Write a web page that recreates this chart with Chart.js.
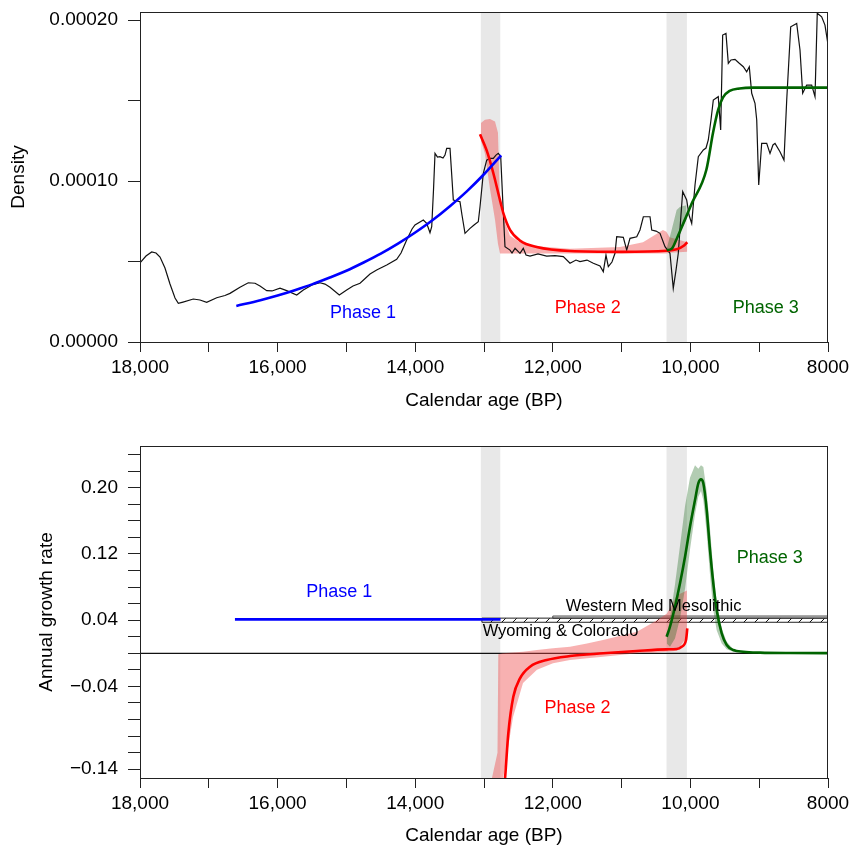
<!DOCTYPE html>
<html><head><meta charset="utf-8">
<script src="https://cdn.jsdelivr.net/npm/chart.js@4.4.1/dist/chart.umd.min.js"></script>
<style>
html,body{margin:0;padding:0;background:#fff;overflow:hidden;width:851px;height:845px}
#c1{position:absolute;left:0;top:0;width:851px;height:420px}
#c2{position:absolute;left:0;top:420px;width:851px;height:430px}
</style>
</head><body>
<canvas id="c1" width="851" height="420"></canvas>
<canvas id="c2" width="851" height="430"></canvas>
<script>
// ---------- axis ticks ----------
const xTickYears = [18000,17000,16000,15000,14000,13000,12000,11000,10000,9000,8000];
const xLabelYears = [18000,16000,14000,12000,10000,8000];
const xLabelTexts = ['18,000','16,000','14,000','12,000','10,000','8000'];
const yTicksTop = [0,0.00005,0.0001,0.00015,0.0002];
const yLabelsTop = ['0.00000','','0.00010','','0.00020'];
const yTicksBottom = [-0.14,-0.12,-0.10,-0.08,-0.06,-0.04,-0.02,0,0.02,0.04,0.06,0.08,0.10,0.12,0.14,0.16,0.18,0.20,0.22,0.24];
const yLabelsBottom = ['\u22120.14','','','','','\u22120.04','','','','0.04','','','','0.12','','','','0.20','',''];

// ---------- shaded intervals ----------
const band1Years = [13050,12760];
const band2Years = [10350,10050];

// ---------- top panel: summed density (black) ----------
const densYears = [18000,17913,17830,17767,17709,17637,17564,17491,17443,17375,17225,17128,17031,16885,16765,16692,16547,16426,16328,16256,16158,16081,15965,15868,15722,15626,15500,15384,15311,15238,15103,14996,14904,14802,14657,14560,14414,14269,14206,14124,14046,14003,13882,13833,13785,13760,13734,13712,13676,13640,13596,13567,13542,13494,13469,13446,13349,13320,13276,13203,13145,13083,13058,13010,12961,12913,12865,12826,12792,12757,12728,12695,12622,12593,12549,12477,12429,12389,12331,12215,12089,11968,11847,11750,11663,11605,11503,11411,11314,11266,11227,11193,11140,11096,11071,10975,10926,10878,10780,10733,10684,10587,10562,10500,10442,10369,10297,10249,10209,10176,10137,10112,10054,10020,9981,9933,9885,9812,9773,9740,9701,9667,9595,9560,9531,9483,9449,9410,9352,9294,9231,9182,9144,9109,9061,9036,9007,8964,8891,8843,8800,8770,8698,8640,8600,8542,8455,8407,8368,8310,8237,8189,8156,8092,8044,8010,8000];
const densValues = [4.91e-5,5.34e-5,5.59e-5,5.53e-5,5.28e-5,4.60e-5,3.60e-5,2.73e-5,2.40e-5,2.48e-5,2.67e-5,2.61e-5,2.47e-5,2.75e-5,2.89e-5,3.02e-5,3.40e-5,3.68e-5,3.65e-5,3.48e-5,3.19e-5,3.17e-5,3.35e-5,3.19e-5,2.92e-5,3.23e-5,3.54e-5,3.68e-5,3.60e-5,3.40e-5,2.92e-5,3.23e-5,3.48e-5,3.65e-5,4.22e-5,4.47e-5,4.78e-5,5.14e-5,5.53e-5,6.34e-5,7.02e-5,7.27e-5,7.58e-5,7.37e-5,6.79e-5,7.16e-5,9.44e-5,11.72e-5,11.49e-5,11.51e-5,11.43e-5,11.61e-5,12.03e-5,12.03e-5,10.37e-5,8.82e-5,8.71e-5,7.89e-5,6.75e-5,7.06e-5,7.27e-5,7.47e-5,8.40e-5,10.48e-5,11.30e-5,11.41e-5,11.41e-5,11.61e-5,11.72e-5,11.51e-5,8.82e-5,5.92e-5,5.71e-5,5.53e-5,5.82e-5,5.51e-5,5.82e-5,5.40e-5,5.34e-5,5.47e-5,5.34e-5,5.37e-5,5.30e-5,4.89e-5,5.09e-5,4.99e-5,5.09e-5,4.89e-5,4.72e-5,4.37e-5,5.40e-5,4.68e-5,4.97e-5,5.51e-5,6.54e-5,6.50e-5,5.71e-5,6.44e-5,6.54e-5,6.96e-5,7.78e-5,7.78e-5,6.96e-5,6.89e-5,6.75e-5,5.92e-5,5.51e-5,3.34e-5,4.47e-5,5.51e-5,7.89e-5,9.34e-5,8.82e-5,7.89e-5,7.37e-5,9.75e-5,11.51e-5,11.93e-5,12.05e-5,12.55e-5,13.79e-5,15.03e-5,15.24e-5,13.17e-5,19.07e-5,19.17e-5,17.31e-5,17.52e-5,17.56e-5,17.33e-5,17.10e-5,16.79e-5,17.10e-5,15.45e-5,14.83e-5,13.79e-5,9.75e-5,12.34e-5,12.34e-5,11.72e-5,12.24e-5,12.34e-5,11.82e-5,11.30e-5,15.03e-5,19.58e-5,19.79e-5,18.14e-5,15.45e-5,15.96e-5,15.96e-5,15.24e-5,20.42e-5,20.20e-5,19.69e-5,18.76e-5,18.90e-5];

// ---------- top panel: model fits ----------
const p1TopYears = [16600,16250,16000,15750,15500,15250,15000,14750,14500,14250,14000,13750,13500,13250,13000,12750];
const p1TopValues = [2.24e-5,2.60e-5,2.89e-5,3.22e-5,3.58e-5,3.99e-5,4.43e-5,4.94e-5,5.49e-5,6.11e-5,6.80e-5,7.56e-5,8.42e-5,9.36e-5,10.42e-5,11.6e-5];
const p2TopYears = [13058,12961,12865,12767,12719,12622,12477,12234,11750,11000,10345,10199,10103,10045];
const p2TopValues = [12.9e-5,11.9e-5,10.5e-5,8.8e-5,8.0e-5,6.96e-5,6.3e-5,5.9e-5,5.65e-5,5.6e-5,5.67e-5,5.76e-5,5.96e-5,6.2e-5];
const p2TopBandYears = [13044,12986,12913,12840,12797,12767,12719,12622,12477,12234,11750,11023,10689,10399,10350,10301,10045];
const p2TopBandUpper = [13.6e-5,13.8e-5,13.85e-5,13.7e-5,13.0e-5,8.5e-5,7.7e-5,6.6e-5,6.2e-5,5.95e-5,5.8e-5,5.9e-5,6.2e-5,6.95e-5,6.85e-5,6.5e-5,6.2e-5];
const p2TopBandLower = [12.5e-5,11.7e-5,9.5e-5,7.6e-5,6.1e-5,5.5e-5,5.5e-5,5.5e-5,5.5e-5,5.5e-5,5.5e-5,5.5e-5,5.5e-5,5.5e-5,5.5e-5,5.55e-5,5.6e-5];
const p3TopYears = [10345,10270,10200,10100,9981,9768,9671,9598,9526,9430,9285,9090,8000];
const p3TopValues = [5.7e-5,5.8e-5,6.4e-5,7.4e-5,8.6e-5,10.7e-5,13.0e-5,14.4e-5,15.2e-5,15.6e-5,15.75e-5,15.8e-5,15.8e-5];
const p3TopBandYears = [10345,10270,10200,10150,10055];
const p3TopBandUpper = [5.8e-5,7.0e-5,8.2e-5,8.4e-5,8.5e-5];
const p3TopBandLower = [5.7e-5,5.8e-5,6.4e-5,6.9e-5,7.6e-5];

// ---------- bottom panel: growth rates ----------
const zeroYears = [18000,8000];
const zeroValues = [0,0];
const p1BotYears = [16620,12760];
const p1BotValues = [0.041,0.041];
const p2BotYears = [12712,12695,12647,12574,12477,12331,12089,11750,11266,10781,10345,10199,10127,10064,10045];
const p2BotValues = [-0.165,-0.152,-0.097,-0.0526,-0.0303,-0.0162,-0.0081,-0.0033,0.0,0.0028,0.0048,0.0052,0.008,0.016,0.030];
const p2BotBandYears = [12888,12804,12792,12724,12578,12433,12230,11997,11750,11503,11271,10777,10486,10341,10195,10050];
const p2BotBandUpper = [-0.152,-0.12,-0.001,0.0,0.001,0.002,0.004,0.006,0.008,0.012,0.016,0.026,0.040,0.048,0.070,0.076];
const p2BotBandLower = [-0.17,-0.17,-0.17,-0.152,-0.077,-0.036,-0.020,-0.012,-0.008,-0.006,-0.004,0.0,0.001,0.002,0.003,0.020];
const p3BotYears = [10345,10297,10224,10151,10078,10006,9933,9885,9846,9812,9763,9715,9667,9618,9545,9472,9376,9231,8988,8552,8000];
const p3BotValues = [0.020,0.0321,0.0563,0.0845,0.1167,0.1529,0.1851,0.2053,0.2101,0.2053,0.1731,0.1248,0.0845,0.0523,0.0242,0.0100,0.0040,0.0019,0.0008,0.0003,0.0002];
const p3BotBandYears = [10345,10297,10224,10151,10078,10006,9933,9885,9846,9812,9763,9715,9667,9618,9545,9472,9376,9231];
const p3BotBandUpper = [0.018,0.042,0.083,0.130,0.178,0.212,0.227,0.223,0.227,0.225,0.195,0.150,0.100,0.062,0.030,0.014,0.005,0.002];
const p3BotBandLower = [0.012,0.008,0.018,0.042,0.078,0.125,0.168,0.189,0.196,0.185,0.145,0.095,0.052,0.028,0.012,0.005,0.002,0.001];
// reference growth-rate ranges
const wyYears = [13030,8000];
const wyUpper = [0.0425,0.0425];
const wyLower = [0.0375,0.0375];
const wmYears = [12000,8000];
const wmUpper = [0.045,0.045];
const wmLower = [0.0425,0.0425];

// ---------- labels ----------
const phaseTexts = ['Phase 1','Phase 2','Phase 3'];
const phaseColors = ['#0000FF','#FF0000','#006400'];
const phaseYearsTop = [14759,11493,8906];
const phaseValuesTop = [1.78e-5,2.09e-5,2.09e-5];
const phaseYearsBot = [15105,11640,8848];
const phaseValuesBot = [0.0744,-0.0664,0.1147];
const refTexts = ['Western Med Mesolithic','Wyoming & Colorado'];
const refYears = [10536,13019];
const refValues = [0.0571,0.0261];
const refAligns = ['center','left'];

// ---------- helpers ----------
const FONT = "'Liberation Sans', Arial, Helvetica, sans-serif";
Chart.defaults.font.family = FONT;
Chart.defaults.color = '#000';
const pts = (xs, ys) => xs.map((x, i) => ({x: x, y: ys[i]}));
function ds(xs, ys, o) {
  return Object.assign({data: pts(xs, ys), borderColor: 'rgba(0,0,0,0)', borderWidth: 0,
    pointRadius: 0, pointHoverRadius: 0, fill: false, tension: 0}, o);
}
function rect(xs, lo, hi) { // outline of a range box, corners taken from the arrays
  return {xs: [xs[0], xs[0], xs[1], xs[1], xs[0]], ys: [lo[0], hi[0], hi[1], lo[1], lo[0]]};
}
function hatchPattern() {
  const c = document.createElement('canvas'); c.width = 11; c.height = 11;
  const g = c.getContext('2d');
  g.strokeStyle = '#111'; g.lineWidth = 1;
  g.beginPath(); g.moveTo(-1, 12); g.lineTo(12, -1); g.stroke();
  return g.createPattern(c, 'repeat');
}
function textPlugin(items) {
  return { id: 'txt', afterDatasetsDraw(chart) {
    const {ctx, scales} = chart;
    items.forEach(t => {
      ctx.save();
      ctx.font = t.size + 'px ' + FONT;
      ctx.fillStyle = t.color; ctx.textAlign = t.align; ctx.textBaseline = 'middle';
      ctx.fillText(t.text, scales.x.getPixelForValue(t.x), scales.y.getPixelForValue(t.y));
      ctx.restore();
    });
  }};
}
const boxPlugin = { id: 'box', afterDatasetsDraw(chart) {
  const {ctx, chartArea: a} = chart;
  ctx.save(); ctx.strokeStyle = '#222'; ctx.lineWidth = 1;
  ctx.strokeRect(Math.round(a.left) + 0.5, Math.round(a.top) + 0.5,
    Math.round(a.right - a.left) - 1, Math.round(a.bottom - a.top));
  ctx.restore();
}};
function xScale(height, titleBottom) {
  return {
    type: 'linear', reverse: true, min: 8000, max: 18000, bounds: 'data',
    afterFit: s => { s.height = height; s.paddingLeft = 0; s.paddingRight = 0; },
    afterBuildTicks: s => { s.ticks = xTickYears.map(v => ({value: v})); },
    ticks: { autoSkip: false, maxRotation: 0, padding: 4, color: '#000', font: {size: 19},
      callback: v => { const i = xLabelYears.indexOf(v); return i >= 0 ? xLabelTexts[i] : ''; } },
    grid: { drawOnChartArea: false, tickLength: 10, tickColor: '#222', tickWidth: 1 },
    border: { display: false },
    title: { display: true, text: 'Calendar age (BP)', color: '#000', font: {size: 19}, padding: {top: 0, bottom: titleBottom} }
  };
}
function yScale(min, max, ticks, labels, title, titlePad) {
  return {
    type: 'linear', min: min, max: max, bounds: 'data',
    afterFit: s => { s.width = 140; s.paddingTop = 0; s.paddingBottom = 0; },
    afterBuildTicks: s => { s.ticks = ticks.map(v => ({value: v})); },
    ticks: { autoSkip: false, padding: 10, color: '#000', font: {size: 19},
      callback: v => { const i = ticks.indexOf(v); return i >= 0 ? labels[i] : ''; } },
    grid: { drawOnChartArea: false, tickLength: 12, tickColor: '#222', tickWidth: 1 },
    border: { display: false },
    title: { display: true, text: title, color: '#000', font: {size: 19}, padding: {top: titlePad, bottom: 0} }
  };
}
const baseOpts = { responsive: false, maintainAspectRatio: false, animation: false, devicePixelRatio: 1,
  events: [], plugins: { legend: {display: false}, tooltip: {enabled: false} } };

// ---------- top chart ----------
const GRAY = '#E8E8E8';
const PINK = 'rgba(238,70,70,0.42)';
const GFILL = 'rgba(20,100,20,0.33)';
const topTexts = phaseTexts.map((t, i) => ({text: t, x: phaseYearsTop[i], y: phaseValuesTop[i], color: phaseColors[i], size: 18, align: 'center'}));
new Chart(document.getElementById('c1'), {
  type: 'line',
  data: { datasets: [
    ds(band1Years, [2.1e-4, 2.1e-4], {fill: 'start', backgroundColor: GRAY, order: 20}),
    ds(band2Years, [2.1e-4, 2.1e-4], {fill: 'start', backgroundColor: GRAY, order: 20}),
    ds(p2TopBandYears, p2TopBandLower, {order: 10}),
    ds(p2TopBandYears, p2TopBandUpper, {fill: 2, backgroundColor: PINK, order: 10}),
    ds(p3TopBandYears, p3TopBandLower, {order: 9}),
    ds(p3TopBandYears, p3TopBandUpper, {fill: 4, backgroundColor: GFILL, order: 9}),
    ds(densYears, densValues, {borderColor: '#111', borderWidth: 1.2, order: 5}),
    ds(p1TopYears, p1TopValues, {borderColor: '#0000FF', borderWidth: 2.6, cubicInterpolationMode: 'monotone', order: 2}),
    ds(p2TopYears, p2TopValues, {borderColor: '#FF0000', borderWidth: 2.6, cubicInterpolationMode: 'monotone', order: 2}),
    ds(p3TopYears, p3TopValues, {borderColor: '#006400', borderWidth: 2.6, cubicInterpolationMode: 'monotone', order: 1})
  ]},
  options: Object.assign({}, baseOpts, {
    layout: { padding: {left: 0, right: 23, top: 12, bottom: 0} },
    scales: { x: xScale(78, 8), y: yScale(0, 0.000205, yTicksTop, yLabelsTop, 'Density', 7) }
  }),
  plugins: [textPlugin(topTexts), boxPlugin]
});

// ---------- bottom chart ----------
const wyBox = rect(wyYears, wyLower, wyUpper);
const wmBox = rect(wmYears, wmLower, wmUpper);
const botTexts = phaseTexts.map((t, i) => ({text: t, x: phaseYearsBot[i], y: phaseValuesBot[i], color: phaseColors[i], size: 18, align: 'center'}))
  .concat(refTexts.map((t, i) => ({text: t, x: refYears[i], y: refValues[i], color: '#000', size: 16.5, align: refAligns[i]})));
new Chart(document.getElementById('c2'), {
  type: 'line',
  data: { datasets: [
    ds(band1Years, [0.26, 0.26], {fill: 'start', backgroundColor: GRAY, order: 20}),
    ds(band2Years, [0.26, 0.26], {fill: 'start', backgroundColor: GRAY, order: 20}),
    ds(zeroYears, zeroValues, {borderColor: '#111', borderWidth: 1.2, order: 15}),
    ds(wyYears, wyLower, {order: 14}),
    ds(wyYears, wyUpper, {fill: 3, backgroundColor: hatchPattern(), order: 14}),
    ds(wyBox.xs, wyBox.ys, {borderColor: '#222', borderWidth: 1, order: 13}),
    ds(wmBox.xs, wmBox.ys, {borderColor: '#444', borderWidth: 1, order: 13}),
    ds(p2BotBandYears, p2BotBandLower, {order: 10}),
    ds(p2BotBandYears, p2BotBandUpper, {fill: 7, backgroundColor: PINK, order: 10}),
    ds(p3BotBandYears, p3BotBandLower, {order: 9}),
    ds(p3BotBandYears, p3BotBandUpper, {fill: 9, backgroundColor: GFILL, order: 9}),
    ds(p1BotYears, p1BotValues, {borderColor: '#0000FF', borderWidth: 2.6, order: 2}),
    ds(p2BotYears, p2BotValues, {borderColor: '#FF0000', borderWidth: 2.6, cubicInterpolationMode: 'monotone', order: 2}),
    ds(p3BotYears, p3BotValues, {borderColor: '#006400', borderWidth: 2.6, cubicInterpolationMode: 'monotone', order: 1})
  ]},
  options: Object.assign({}, baseOpts, {
    layout: { padding: {left: 0, right: 23, top: 26, bottom: 0} },
    scales: { x: xScale(72, 3), y: yScale(-0.1506, 0.2504, yTicksBottom, yLabelsBottom, 'Annual growth rate', 35) }
  }),
  plugins: [textPlugin(botTexts), boxPlugin]
});
</script>
</body></html>
